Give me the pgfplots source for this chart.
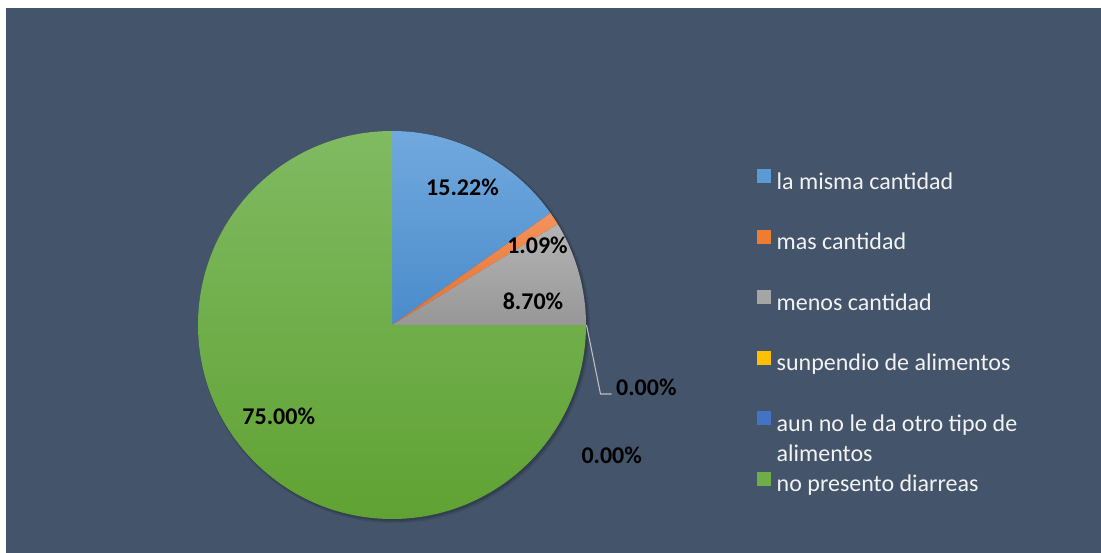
\documentclass[border=0pt]{standalone}
\usepackage{pgfplots}
\pgfplotsset{compat=1.18}
\usepackage{pgfplotstable}
\usepackage{fontspec}
\setmainfont{Carlito}
\definecolor{bg}{HTML}{44546A}
\definecolor{s1t}{HTML}{71A9DE}\definecolor{s1b}{HTML}{4A8BCB}\definecolor{s1}{HTML}{5B9BD5}
\definecolor{s2t}{HTML}{F4925C}\definecolor{s2b}{HTML}{E5702A}\definecolor{s2}{HTML}{ED7D31}
\definecolor{s3t}{HTML}{B4B4B4}\definecolor{s3b}{HTML}{979797}\definecolor{s3}{HTML}{A5A5A5}
\definecolor{s4t}{HTML}{FFC000}\definecolor{s4b}{HTML}{F0B400}\definecolor{s4}{HTML}{FFC000}
\definecolor{s5t}{HTML}{4A7BCF}\definecolor{s5b}{HTML}{3F69B6}\definecolor{s5}{HTML}{4472C4}
\definecolor{s6t}{HTML}{80BA62}\definecolor{s6b}{HTML}{60A233}\definecolor{s6}{HTML}{70AD47}
\definecolor{lead}{HTML}{BFBFBF}
\definecolor{legtext}{HTML}{F2F2F2}

\pgfplotstableread{
value top bot
15.22 s1t s1b
1.09 s2t s2b
8.70 s3t s3b
0.00 s4t s4b
0.00 s5t s5b
75.00 s6t s6b
}\piedata

\begin{document}
\begin{tikzpicture}
\begin{axis}[
  hide axis, scale only axis, clip=false,
  width=825.75pt, height=414.75pt,
  xmin=0, xmax=1101, ymin=0, ymax=553,
  legend image code/.code={\fill[#1, draw=none] (0pt,-0.25pt) rectangle (10.5pt,10.25pt);},
  legend style={
    at={(axis cs:757,384)}, anchor=north west,
    draw=none, fill=none, inner sep=0pt, outer sep=0pt,
    text=legtext,
    font=\fontsize{18}{22.5}\selectfont,
    row sep=28.15pt,
    cells={anchor=west},
    nodes={inner sep=0pt, text height=12pt, text depth=2pt},
    /tikz/every odd column/.append style={column sep=4.3pt},
  },
]
\fill[white] (axis cs:0,0) rectangle (axis cs:1101,553);
\fill[bg] (axis cs:6,0) rectangle (axis cs:1101,545);
% soft shadow
\fill[black, opacity=0.10] (axis cs:394,226) circle[radius=147pt];
\fill[black, opacity=0.15] (axis cs:393.5,226.5) circle[radius=146pt];

\gdef\angA{90}
\pgfplotsforeachungrouped \i in {0,...,5}{%
  \pgfplotstablegetelem{\i}{value}\of\piedata \let\v\pgfplotsretval
  \pgfplotstablegetelem{\i}{top}\of\piedata \let\ct\pgfplotsretval
  \pgfplotstablegetelem{\i}{bot}\of\piedata \let\cb\pgfplotsretval
  \pgfmathsetmacro{\angB}{\angA-3.6*\v}
  \ifdim\v pt>0pt
    \edef\temp{\noexpand\shade[top color=\ct, bottom color=\cb] (axis cs:392,228) -- ++(\angA:145.5pt) arc[start angle=\angA, end angle=\angB, radius=145.5pt] -- cycle;}
    \temp
  \fi
  \global\let\angA\angB
}

\draw[lead, line width=0.8pt] (axis cs:586.5,228) -- (axis cs:600.5,159) -- (axis cs:611.5,159);

\begin{scope}[every node/.style={font=\fontsize{18}{21.6}\selectfont\bfseries, text=black, inner sep=0pt}]
\node at (axis cs:462.5,365.5) {15.22\%};
\node at (axis cs:537.5,307.5) {1.09\%};
\node at (axis cs:533,252) {8.70\%};
\node at (axis cs:646.3,166) {0.00\%};
\node at (axis cs:611.7,98) {0.00\%};
\node at (axis cs:278.7,136.5) {75.00\%};
\end{scope}

\addlegendimage{fill=s1}\addlegendentry{la misma cantidad}
\addlegendimage{fill=s2}\addlegendentry{mas cantidad}
\addlegendimage{fill=s3}\addlegendentry{menos cantidad}
\addlegendimage{fill=s4}\addlegendentry{sunpendio de alimentos}
\addlegendimage{fill=s5}\addlegendentry{\smash{\begin{tabular}[t]{@{}l@{}}aun no le da otro tipo de\\alimentos\end{tabular}}}
\addlegendimage{fill=s6}\addlegendentry{no presento diarreas}
\end{axis}
\end{tikzpicture}
\end{document}
